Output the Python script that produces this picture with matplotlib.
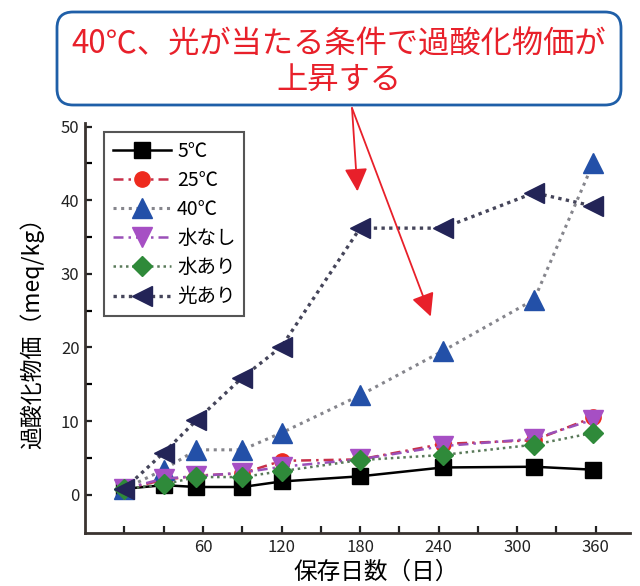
import matplotlib
matplotlib.use("Agg")
import matplotlib.pyplot as plt
from matplotlib.patches import FancyBboxPatch

plt.rcParams['font.family'] = ['Noto Sans CJK JP', 'DejaVu Sans']

# storage days (markers sit a little off the ticks)
days = [0, 30, 55, 90, 120, 180, 243, 313, 358]

t5 = [0.8, 1.3, 1.05, 1.05, 1.8, 2.5, 3.7, 3.8, 3.4]
t25 = [0.8, 2.0, 2.6, 2.9, 4.6, 4.8, 6.9, 7.4, 10.5]
t40 = [0.8, 3.4, 6.1, 6.1, 8.4, 13.5, 19.5, 26.5, 45.0]
no_water = [0.8, 2.2, 2.5, 3.0, 3.8, 4.8, 6.6, 7.6, 10.2]
water = [0.8, 1.4, 2.4, 2.4, 3.2, 4.7, 5.4, 6.8, 8.4]
light = [0.8, 5.7, 10.1, 15.9, 20.1, 36.2, 36.2, 41.0, 39.2]

labels = ["5℃", "25℃", "40℃", "水なし", "水あり", "光あり"]
xticks = [0, 30, 60, 90, 120, 150, 180, 210, 240, 270, 300, 330, 360]
yticks = [0, 10, 20, 30, 40, 50]

RED = "#e8202a"

fig = plt.figure(figsize=(6.4, 5.86), dpi=100)
ax = fig.add_axes([0.133, 0.0904, 0.851, 0.700])

ax.plot(days, t5, color="black", lw=1.8, ls="-", marker="s", ms=11,
        mfc="black", mec="black", label=labels[0])
ax.plot(days, t25, color="#c8304a", lw=1.8, ls=(0, (4, 2, 1, 2)), marker="o", ms=11,
        mfc="#ee2a1e", mec="#ee2a1e", label=labels[1])
ax.plot(days, t40, color="#85858c", lw=2.2, ls=(0, (1, 1.5)), marker="^", ms=14,
        mfc="#2350a8", mec="#2350a8", label=labels[2])
ax.plot(days, no_water, color="#9a50b8", lw=1.8, ls=(0, (4, 2, 1, 2)), marker="v", ms=14,
        mfc="#a64fc4", mec="#a64fc4", label=labels[3])
ax.plot(days, water, color="#5a7a5a", lw=1.8, ls=(0, (1, 1.5)), marker="D", ms=10,
        mfc="#2f8a3a", mec="#2f8a3a", label=labels[4])
ax.plot(days, light, color="#45455a", lw=2.4, ls=(0, (1, 1.3)), marker="<", ms=14,
        mfc="#232457", mec="#232457", label=labels[5])

ax.set_xlim(-30, 386)
ax.set_ylim(-5.2, 50.5)
ax.set_xticks(xticks)
ax.set_xticklabels([str(x) if x % 60 == 0 and x > 0 else "" for x in xticks])
ax.set_yticks(yticks)
ax.set_yticks([5, 15, 25, 35, 45], minor=True)
ax.tick_params(axis="both", direction="in", length=5, width=1.6, labelsize=12,
               colors="#222222", pad=4)
ax.tick_params(axis="y", which="minor", direction="in", length=5, width=1.6)

for s in ["top", "right"]:
    ax.spines[s].set_visible(False)
for s in ["left", "bottom"]:
    ax.spines[s].set_linewidth(2.0)
    ax.spines[s].set_color("#3a3330")

ax.set_ylabel("過酸化物価（meq/kg）", fontsize=16.5, labelpad=12)
ax.set_xlabel("保存日数（日）", fontsize=17)
ax.xaxis.set_label_coords(0.534, -0.068)

leg = ax.legend(loc="upper left", bbox_to_anchor=(0.035, 0.978), fontsize=14,
                fancybox=False, framealpha=1, edgecolor="#555555",
                handlelength=3.0, labelspacing=0.42, borderpad=0.45,
                handletextpad=0.3, borderaxespad=0)
leg.get_frame().set_linewidth(1.5)

# callout box at the top
box = FancyBboxPatch((0.57, 4.81), 5.64, 0.93, boxstyle="round,pad=0,rounding_size=0.16",
                     transform=fig.dpi_scale_trans, fc="white", ec="#1f5fa8", lw=2)
fig.patches.append(box)
fig.text(339 / 640, 1 - 45 / 586, "40℃、光が当たる条件で過酸化物価が",
         ha="center", va="center", color=RED, fontsize=22.5)
fig.text(339 / 640, 1 - 80 / 586, "上昇する",
         ha="center", va="center", color=RED, fontsize=22.5)

arrow = dict(arrowstyle="-|>,head_length=0.7,head_width=0.35", color=RED, lw=1.3,
             shrinkA=0, shrinkB=0, mutation_scale=20)
ax.annotate("", xy=(178, 41.2), xytext=(0.55, 0.8157), textcoords="figure fraction",
            arrowprops=arrow, annotation_clip=False)
ax.annotate("", xy=(234, 24.2), xytext=(0.55, 0.8157), textcoords="figure fraction",
            arrowprops=arrow, annotation_clip=False)

fig.savefig("out.png", dpi=100)
